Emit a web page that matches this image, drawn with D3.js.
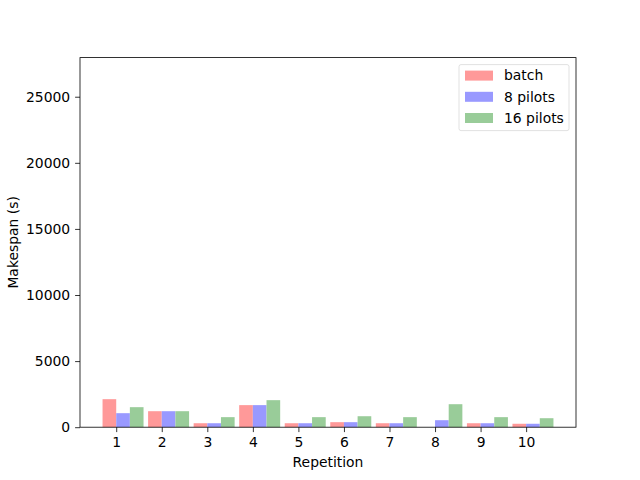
<!DOCTYPE html>
<html>
<head>
<meta charset="utf-8">
<script src="https://cdn.jsdelivr.net/npm/d3@7"></script>
<style>
  body { margin: 0; background: #fff; }
  text { font-family: "DejaVu Sans", sans-serif; }
</style>
</head>
<body>
<svg id="chart"></svg>
<script>
'use strict';

// Data
var repetitions = [1, 2, 3, 4, 5, 6, 7, 8, 9, 10];
var batch = [2120, 1210, 300, 1670, 300, 380, 300, 0, 300, 260];
var pilots8 = [1060, 1210, 300, 1670, 300, 380, 300, 530, 300, 260];
var pilots16 = [1515, 1210, 760, 2045, 760, 830, 760, 1740, 760, 680];
var seriesNames = ['batch', '8 pilots', '16 pilots'];
var seriesColors = ['#ff9999', '#9999ff', '#99cc99'];
var yTicks = [0, 5000, 10000, 15000, 20000, 25000];

var canvasWidth = 640;
var canvasHeight = 480;
var margin = { top: 57.6, right: 64, bottom: 52.8, left: 80 };
var width = canvasWidth - margin.left - margin.right;
var height = canvasHeight - margin.top - margin.bottom;
var barW = 0.3;
var fontSize = 13.9;

var svg = d3.select('#chart')
  .attr('width', canvasWidth)
  .attr('height', canvasHeight);

var graphArea = svg.append('g')
  .attr('transform', 'translate(' + margin.left + ',' + margin.top + ')');

// x range covers bars from 0.7 to 10.6 plus matplotlib's 5% margins
var lo = 1 - barW, hi = 10 + 2 * barW;
var pad = (hi - lo) * 0.05;
var xScale = d3.scaleLinear().domain([lo - pad, hi + pad]).range([0, width]);
var yScale = d3.scaleLinear().domain([0, 27960]).range([height, 0]);

// Bars
var allSeries = [batch, pilots8, pilots16];
allSeries.forEach(function(values, s) {
  graphArea.selectAll('.bar' + s)
    .data(values)
    .enter().append('rect')
    .attr('class', 'bar' + s)
    .attr('x', function(d, i) { return xScale(repetitions[i] + (s - 1) * barW); })
    .attr('width', xScale(barW) - xScale(0))
    .attr('y', function(d) { return yScale(d); })
    .attr('height', function(d) { return height - yScale(d); })
    .style('fill', seriesColors[s]);
});

// Axes
var xAxis = graphArea.append('g')
  .attr('transform', 'translate(0,' + height + ')')
  .call(d3.axisBottom(xScale).tickValues(repetitions).tickFormat(d3.format('d'))
    .tickSize(4.9).tickPadding(4.9));

var yAxis = graphArea.append('g')
  .call(d3.axisLeft(yScale).tickValues(yTicks).tickFormat(d3.format('d'))
    .tickSize(4.9).tickPadding(4.9));

[xAxis, yAxis].forEach(function(ax) {
  ax.select('.domain').remove();
  ax.selectAll('text').style('font-size', fontSize + 'px').attr('fill', '#000');
  ax.selectAll('line').attr('stroke', '#000').attr('stroke-width', 0.8);
});

// Frame
graphArea.append('rect')
  .attr('width', width)
  .attr('height', height)
  .attr('fill', 'none')
  .attr('stroke', '#000')
  .attr('stroke-width', 0.8);

// Axis labels
svg.append('text')
  .attr('x', margin.left + width / 2)
  .attr('y', 467)
  .style('text-anchor', 'middle')
  .style('font-size', fontSize + 'px')
  .text('Repetition');

svg.append('text')
  .attr('transform', 'translate(18,' + (margin.top + height / 2) + ') rotate(-90)')
  .style('text-anchor', 'middle')
  .style('font-size', fontSize + 'px')
  .text('Makespan (s)');

// Legend
var legendBox = graphArea.append('g')
  .attr('transform', 'translate(' + (width - 117) + ',7)');

legendBox.append('rect')
  .attr('width', 110)
  .attr('height', 66)
  .attr('rx', 2)
  .attr('fill', '#fff')
  .attr('fill-opacity', 0.8)
  .attr('stroke', '#d9d9d9')
  .attr('stroke-width', 0.8);

var legend = legendBox.selectAll('.legend')
  .data(seriesNames)
  .enter().append('g')
  .attr('class', 'legend')
  .attr('transform', function(d, i) {
    return 'translate(0,' + (11 + i * 21.2) + ')';
  });

legend.append('rect')
  .attr('x', 6)
  .attr('y', -5)
  .attr('width', 28)
  .attr('height', 10)
  .style('fill', function(d, i) { return seriesColors[i]; });

legend.append('text')
  .attr('x', 45)
  .attr('y', 0)
  .attr('dy', '.35em')
  .style('font-size', fontSize + 'px')
  .text(function(d) { return d; });
</script>
</body>
</html>
